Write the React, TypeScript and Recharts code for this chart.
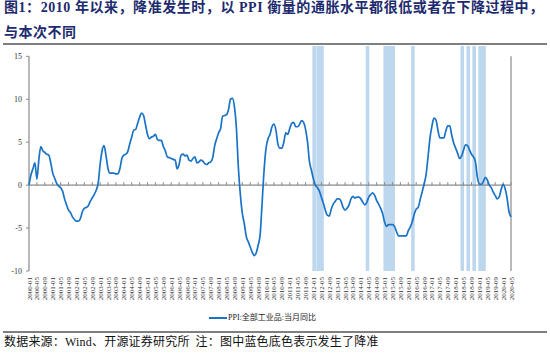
import React from 'react';
import { LineChart, Line, XAxis, YAxis, ReferenceArea, ReferenceLine } from 'recharts';

// monthly labels 2000-01 .. 2020-05
const months: string[] = [];
for (let y = 2000; y <= 2020; y++) {
  for (let m = 1; m <= 12; m++) {
    if (y === 2020 && m > 5) break;
    months.push(`${y}-${String(m).padStart(2, '0')}`);
  }
}

// PPI: 全部工业品: 当月同比 (%)
const ppi2000s = [
  0.0, 1.2, 1.9, 2.6, 0.7, 3.0, 4.5, 4.0, 3.8, 3.6, 3.5, 2.6,
  1.4, 0.8, 0.2, -0.1, -0.3, -0.7, -1.6, -2.3, -2.9, -3.2, -3.7, -4.0,
  -4.2, -4.2, -3.9, -3.1, -2.7, -2.6, -2.4, -1.9, -1.5, -1.1, -0.6, 0.2,
  2.4, 4.0, 4.6, 3.4, 1.9, 1.4, 1.4, 1.4, 1.3, 1.3, 1.9, 3.1,
  3.5, 3.6, 3.9, 4.8, 5.6, 6.4, 6.5, 7.2, 7.9, 8.4, 8.1, 7.0,
  5.9, 5.4, 5.6, 5.7, 5.9, 5.3, 5.2, 5.2, 4.5, 4.0, 3.3, 3.2,
  3.1, 3.0, 2.9, 1.9, 2.4, 3.5, 3.6, 3.4, 3.5, 2.9, 2.8, 3.1,
  3.3, 2.6, 2.7, 2.9, 2.8, 2.5, 2.4, 2.6, 2.7, 3.2, 4.6, 5.4,
  6.1, 6.6, 8.0, 8.1, 8.2, 8.8, 10.0, 10.1, 9.1, 6.6, 2.0, -1.1,
  -3.3, -4.5, -6.0, -6.6, -7.2, -7.8, -8.2, -7.9, -7.0, -5.8, -2.1, 1.7,
];
const ppi2010s = [
  4.3, 5.4, 5.9, 6.8, 7.1, 6.4, 4.8, 4.3, 4.3, 5.0, 6.1, 5.9,
  6.6, 7.2, 7.3, 6.8, 6.8, 7.1, 7.5, 7.3, 6.5, 5.0, 2.7, 1.7,
  0.7, 0.0, -0.3, -0.7, -1.4, -2.1, -2.9, -3.5, -3.6, -2.8, -2.2, -1.9,
  -1.6, -1.6, -1.9, -2.6, -2.9, -2.7, -2.3, -1.6, -1.3, -1.5, -1.4, -1.4,
  -1.6, -2.0, -2.3, -2.0, -1.4, -1.1, -0.9, -1.2, -1.8, -2.2, -2.7, -3.3,
  -4.3, -4.8, -4.6, -4.6, -4.6, -4.8, -5.4, -5.9, -5.9, -5.9, -5.9, -5.9,
  -5.3, -4.9, -4.3, -3.4, -2.8, -2.6, -1.7, -0.8, 0.1, 1.2, 3.3, 5.5,
  6.9, 7.8, 7.6, 6.4, 5.5, 5.5, 5.5, 6.3, 6.9, 6.9, 5.8, 4.9,
  4.3, 3.7, 3.1, 3.4, 4.1, 4.7, 4.6, 4.1, 3.6, 3.3, 2.7, 0.9,
  0.1, 0.1, 0.4, 0.9, 0.6, 0.0, -0.3, -0.8, -1.2, -1.6, -1.4, -0.5,
  0.1, -0.4, -1.5, -3.1, -3.7,
];
const ppi = [...ppi2000s, ...ppi2010s];

// 降准 periods (shaded)
const cutPeriods: [string, string][] = [
  ['2012-01', '2012-02'],
  ['2012-03', '2012-06'],
  ['2014-04', '2014-05'],
  ['2015-01', '2015-06'],
  ['2016-03', '2016-04'],
  ['2018-04', '2018-05'],
  ['2018-07', '2018-08'],
  ['2018-10', '2018-11'],
  ['2019-01', '2019-04'],
];

const yTicks = [-10, -5, 0, 5, 10, 15];
const xTicks = months.map((_, i) => i).filter((i) => i % 4 === 0);

const rows = months.map((m, i) => ({ idx: i, month: m, ppi: ppi[i] }));
const last = months.length - 1;
const Y_MAX = 16.2;

const BLUE = '#1a73c6';
const SHADE = '#bdd7ee';
const GRAY = '#8a8a8a';
const SERIF = "'Liberation Serif', 'Noto Sans CJK SC', serif";

const MonthTick = ({ x, y, payload }: any) => (
  <text
    x={0}
    y={0}
    dy={2.5}
    transform={`translate(${x},${y + 6}) rotate(-90)`}
    textAnchor="end"
    fontSize={7}
    fill="#333"
    fontFamily={SERIF}
  >
    {months[payload.value]}
  </text>
);

export default function App() {
  return (
    <div style={{ position: 'absolute', left: 0, top: 0, width: 550, height: 353, background: '#fff', fontFamily: SERIF }}>
      <div style={{ position: 'absolute', left: 4, top: 0, fontSize: 14, lineHeight: '15px', fontWeight: 700, color: '#1d2b6e', whiteSpace: 'nowrap', letterSpacing: 0.55 }}>
        图1：2010 年以来，降准发生时，以 PPI 衡量的通胀水平都很低或者在下降过程中，
      </div>
      <div style={{ position: 'absolute', left: 4, top: 25, fontSize: 14, lineHeight: '15px', fontWeight: 700, color: '#1d2b6e', whiteSpace: 'nowrap', letterSpacing: 0.5 }}>
        与本次不同
      </div>
      <div style={{ position: 'absolute', left: 3, top: 43, width: 544, height: 2, background: '#7f7f7f' }} />

      <div style={{ position: 'absolute', left: 0, top: 0 }}>
        <LineChart width={550} height={353} data={rows} margin={{ top: 46, right: 39, left: 9, bottom: 42 }}>
          <XAxis
            dataKey="idx"
            type="number"
            domain={[0, last]}
            ticks={xTicks}
            interval={0}
            axisLine={false}
            tickLine={false}
            tickSize={0}
            tickMargin={0}
            height={40}
            tick={<MonthTick />}
          />
          <YAxis
            yAxisId="l"
            domain={[-10, Y_MAX]}
            ticks={yTicks}
            interval={0}
            allowDataOverflow
            axisLine={false}
            tickLine={{ stroke: GRAY }}
            tickSize={3}
            tickMargin={4}
            width={20}
            tick={{ fontSize: 8, fill: '#333', fontFamily: SERIF }}
          />
          <YAxis
            yAxisId="r"
            orientation="right"
            domain={[-10, Y_MAX]}
            ticks={yTicks}
            interval={0}
            allowDataOverflow
            axisLine={false}
            tickLine={{ stroke: GRAY }}
            tickSize={3}
            mirror
            tick={false}
            width={0}
          />
          {cutPeriods.map(([s, e]) => (
            <ReferenceArea
              key={s}
              yAxisId="l"
              x1={months.indexOf(s) - 0.55}
              x2={months.indexOf(e) + 0.25}
              y1={-10}
              y2={Y_MAX}
              ifOverflow="visible"
              fill={SHADE}
              fillOpacity={1}
              stroke="none"
            />
          ))}
          <ReferenceLine yAxisId="l" y={0} stroke={GRAY} strokeWidth={1.3} />
          {xTicks.map((i) => (
            <ReferenceLine
              key={`t${i}`}
              yAxisId="l"
              segment={[{ x: i, y: 0 }, { x: i, y: 0.35 }]}
              stroke={GRAY}
              strokeWidth={1}
            />
          ))}
          <ReferenceLine yAxisId="l" segment={[{ x: 0, y: 15 }, { x: 0, y: -10 }]} stroke={GRAY} strokeWidth={1.2} />
          <ReferenceLine yAxisId="l" segment={[{ x: last, y: 15 }, { x: last, y: -10 }]} stroke={GRAY} strokeWidth={1.2} />
          <Line
            yAxisId="l"
            type="monotone"
            dataKey="ppi"
            stroke={BLUE}
            strokeWidth={1.7}
            dot={false}
            isAnimationActive={false}
          />
        </LineChart>
      </div>

      <div style={{ position: 'absolute', left: 209, top: 317, width: 18, height: 2, background: BLUE }} />
      <div style={{ position: 'absolute', left: 228, top: 313, fontSize: 8, lineHeight: '10px', color: '#222', whiteSpace: 'nowrap' }}>
        PPI:全部工业品:当月同比
      </div>
      <div style={{ position: 'absolute', left: 3, top: 331, width: 544, height: 2, background: '#7f7f7f' }} />
      <div style={{ position: 'absolute', left: 4, top: 336, fontSize: 12, lineHeight: '13px', color: '#111', whiteSpace: 'nowrap', letterSpacing: 0.2 }}>
        数据来源：Wind、开源证券研究所<span style={{ marginLeft: 6 }}>注：图中蓝色底色表示发生了降准</span>
      </div>
    </div>
  );
}
